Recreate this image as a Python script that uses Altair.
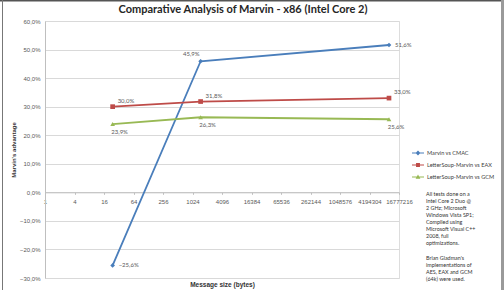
import altair as alt
import pandas as pd

# Message sizes (bytes) at which each comparison was measured
sizes = [24, 1500, 10485760]

series = ["Marvin vs CMAC", "LetterSoup-Marvin vs EAX", "LetterSoup-Marvin vs GCM"]
cmac = [-25.6, 45.9, 51.6]
eax = [30.0, 31.8, 33.0]
gcm = [23.9, 26.3, 25.6]

colors = ["#4A7EBB", "#BE4B48", "#98B954"]
shapes = ["diamond", "square", "triangle-up"]

x_ticks = [4 ** i for i in range(13)]
y_ticks = list(range(-30, 61, 10))

note_setup = [
    "All tests done on a",
    "Intel Core 2  Duo @",
    "2 GHz; Microsoft",
    "Windows Vista SP1;",
    "Compiled using",
    "Microsoft Visual C++",
    "2008, full",
    "optimizations.",
]
note_credit = [
    "Brian Gladman's",
    "implementations of",
    "AES, EAX and GCM",
    "(64k) were used.",
]

rows = []
for name, vals in zip(series, [cmac, eax, gcm]):
    for i, (s, v) in enumerate(zip(sizes, vals)):
        rows.append({"series": name, "size": s, "value": v, "idx": i})
df = pd.DataFrame(rows)

FONT = "Lato"
W, H = 354, 257

pct_expr = "replace(format(datum.value, '.1f'), '.', ',') + '%'"

# Legend glyphs: a short line segment with the series marker on top
seg = "M-2,-0.13L2,-0.13L2,0.13L-2,0.13Z"
legend_shapes = [
    seg + "M0,-0.8L0.8,0L0,0.8L-0.8,0Z",
    seg + "M-0.65,-0.65L0.65,-0.65L0.65,0.65L-0.65,0.65Z",
    seg + "M0,-0.8L0.8,0.6L-0.8,0.6Z",
]

x_enc = alt.X(
    "size:Q",
    scale=alt.Scale(type="log", base=4, domain=[1, 16777216], nice=False),
    axis=alt.Axis(
        values=x_ticks, format="d", grid=False, offset=-85.7,
        domainColor="#bfbfbf", tickColor="#bfbfbf", tickSize=2,
        labelFontSize=6, labelColor="#595959", labelPadding=4,
        title="Message size (bytes)", titleFontSize=6.5, titleFontWeight="bold",
        titleColor="#333333", titleX=W / 2, titleY=92, titleBaseline="middle",
        labelFlush=False,
    ),
)
y_enc = alt.Y(
    "value:Q",
    scale=alt.Scale(domain=[-30, 60], nice=False),
    axis=alt.Axis(
        values=y_ticks, labelExpr=pct_expr, grid=True, gridColor="#d9d9d9",
        domainColor="#bfbfbf", ticks=False, labelFontSize=6, labelColor="#595959",
        labelPadding=5,
        title="Marvin's advantage", titleFontSize=6, titleFontWeight="bold",
        titleColor="#333333", titleX=-32, titleY=H / 2, titleBaseline="middle",
    ),
)

legend = alt.Legend(
    title=None, orient="none", legendX=370, legendY=129, labelFontSize=5.6,
    labelColor="#404040", symbolSize=36, rowPadding=5, labelOffset=6,
    labelFont=FONT, symbolOpacity=1, symbolStrokeWidth=0,
)
color = alt.Color("series:N", scale=alt.Scale(domain=series, range=colors), legend=legend)

base = alt.Chart(df).encode(x=x_enc, y=y_enc)

lines = base.mark_line(strokeWidth=1.8).encode(color=color, detail="series:N")

# one marker layer per series, each with its own marker shape
marker_layers = [
    base.transform_filter(alt.datum.series == name)
    .mark_point(filled=True, size=22, opacity=1, shape=shp)
    .encode(color=color)
    for name, shp in zip(series, shapes)
]

# invisible layer that only carries the legend glyphs
legend_layer = base.mark_point(filled=True, opacity=0).encode(
    color=color,
    shape=alt.Shape("series:N", scale=alt.Scale(domain=series, range=legend_shapes), legend=legend),
)

label_base = base.transform_calculate(
    lab="replace(format(datum.value, '.1f'), '.', ',') + '%'"
)
lab_style = dict(fontSize=6, color="#595959", font=FONT, baseline="middle")

blue_side = label_base.transform_filter(
    (alt.datum.series == series[0]) & (alt.datum.idx != 1)
).mark_text(align="left", dx=6, **lab_style).encode(text="lab:N")
blue_top = label_base.transform_filter(
    (alt.datum.series == series[0]) & (alt.datum.idx == 1)
).mark_text(align="right", dx=-1, dy=-7, **lab_style).encode(text="lab:N")
red_lab = label_base.transform_filter(alt.datum.series == series[1]).mark_text(
    align="left", dx=5, dy=-6, **lab_style
).encode(text="lab:N")
green_lab = label_base.transform_filter(alt.datum.series == series[2]).mark_text(
    align="center", dx=7, dy=8, **lab_style
).encode(text="lab:N")

note_style = dict(
    align="left", baseline="middle", fontSize=5.4, lineHeight=7, color="#333333",
    font=FONT, lineBreak="\n",
)
note_df = pd.DataFrame({"t": ["\n".join(note_setup), "\n".join(note_credit)], "k": [0, 1]})
note_a = alt.Chart(note_df).transform_filter(alt.datum.k == 0).mark_text(**note_style).encode(
    text="t:N", x=alt.value(381), y=alt.value(173)
)
note_b = alt.Chart(note_df).transform_filter(alt.datum.k == 1).mark_text(**note_style).encode(
    text="t:N", x=alt.value(381), y=alt.value(237)
)

frame_df = pd.DataFrame({"a": [0]})
frame_top = alt.Chart(frame_df).mark_rule(color="#555555", strokeWidth=1.5).encode(
    x=alt.value(-45), x2=alt.value(459), y=alt.value(-20.3)
)
frame_left = alt.Chart(frame_df).mark_rule(color="#777777", strokeWidth=1).encode(
    x=alt.value(-42.5), y=alt.value(-21), y2=alt.value(269)
)
frame_right = alt.Chart(frame_df).mark_rule(color="#9a9a9a", strokeWidth=3).encode(
    x=alt.value(457.5), y=alt.value(-21), y2=alt.value(269)
)

chart = alt.layer(
    lines, *marker_layers, legend_layer, blue_side, blue_top, red_lab, green_lab,
    note_a, note_b, frame_top, frame_left, frame_right,
).properties(
    width=W, height=H,
    autosize=alt.AutoSizeParams(type="none"),
    padding={"left": 45, "top": 21, "right": 105, "bottom": 12},
    title=alt.TitleParams(
        "Comparative Analysis of Marvin - x86 (Intel Core 2)", fontSize=11,
        fontWeight="bold", font=FONT, color="#262626", dx=21, offset=-16,
        anchor="middle", frame="group",
    ),
).configure_view(stroke=None).configure_axis(labelFont=FONT, titleFont=FONT).configure(
    background="white"
)

chart.save("out.html", embed_options={"renderer": "svg", "actions": False})
